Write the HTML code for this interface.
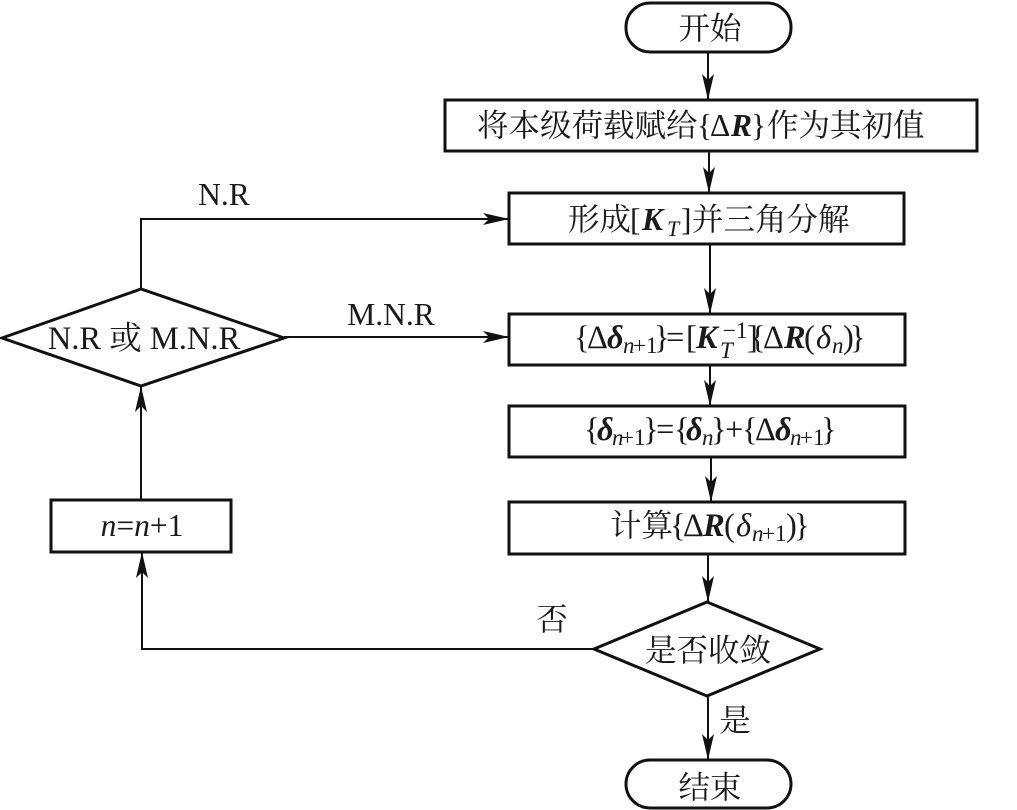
<!DOCTYPE html>
<html><head><meta charset="utf-8"><style>
html,body{margin:0;padding:0;background:#fff;width:1017px;height:810px;overflow:hidden}
svg{display:block}
text{font-family:"Liberation Serif","Noto Serif CJK SC",serif;fill:#1a1a1a;font-size:31.5px}
.c{text-anchor:middle}
.i{font-style:italic}
.b{font-weight:bold;font-style:italic}
.s{font-size:22px}
.f{font-size:32.5px}
.f .s{font-size:23px}
</style></head><body>
<svg width="1017" height="810" viewBox="0 0 1017 810" xmlns="http://www.w3.org/2000/svg">
<defs>
<marker id="a" markerUnits="userSpaceOnUse" markerWidth="28" markerHeight="14" refX="26" refY="7" orient="auto"><path d="M0 1 L26 7 L0 13 L6 7 Z" fill="#111"/></marker>
</defs>
<g fill="none" stroke="#111" stroke-width="3">
<rect x="626" y="3" width="165" height="49" rx="24" ry="24"/>
<rect x="445" y="100" width="532" height="51"/>
<rect x="509" y="193" width="395" height="51"/>
<rect x="509" y="314" width="396" height="51"/>
<rect x="509" y="406" width="396" height="51"/>
<rect x="509" y="502" width="396" height="52"/>
<rect x="51" y="500" width="180" height="52"/>
<rect x="626" y="760" width="165" height="48" rx="24" ry="24"/>
<path d="M2 338 L141 289 L284 338 L141 386 Z"/>
<path d="M594 649 L707 602 L820 649 L707 696 Z"/>
</g>
<g fill="none" stroke="#111" stroke-width="2">
<path d="M708 52 V100" marker-end="url(#a)"/>
<path d="M709 151 V193" marker-end="url(#a)"/>
<path d="M710 244 V314" marker-end="url(#a)"/>
<path d="M710 365 V406" marker-end="url(#a)"/>
<path d="M711 457 V502" marker-end="url(#a)"/>
<path d="M708 554 V602" marker-end="url(#a)"/>
<path d="M708 696 V760" marker-end="url(#a)"/>
<path d="M141 289 V219 H509" marker-end="url(#a)"/>
<path d="M284 337 H509" marker-end="url(#a)"/>
<path d="M141 500 V386" marker-end="url(#a)"/>
<path d="M594 649 H142 V552" marker-end="url(#a)"/>
</g>
<text class="c" x="710" y="39">开始</text>
<text y="136"><tspan x="477">将本级荷载赋给</tspan><tspan x="697">{</tspan><tspan x="710">Δ</tspan><tspan class="b" x="731">R</tspan><tspan x="751">}</tspan><tspan x="767">作为其初值</tspan></text>
<text y="230"><tspan x="568">形成</tspan><tspan x="630">[</tspan><tspan class="b" x="642">K</tspan><tspan class="i s" x="667" y="236">T</tspan><tspan x="681" y="230">]</tspan><tspan x="692">并三角分解</tspan></text>
<text class="f" y="348"><tspan x="574">{</tspan><tspan x="587">Δ</tspan><tspan class="b" x="607">δ</tspan><tspan class="i s" x="623" y="353">n</tspan><tspan class="s" x="633" y="353">+1</tspan><tspan x="654" y="348">}</tspan><tspan x="666">=</tspan><tspan x="686">[</tspan><tspan class="b" x="696">K</tspan><tspan class="s" x="723" y="338">−1</tspan><tspan class="i s" x="720" y="358">T</tspan><tspan x="747" y="348">]</tspan><tspan x="750">{</tspan><tspan x="763">Δ</tspan><tspan class="b" x="784">R</tspan><tspan x="804">(</tspan><tspan class="i" x="816">δ</tspan><tspan class="i s" x="832" y="353">n</tspan><tspan x="843" y="348">)</tspan><tspan x="850">}</tspan></text>
<text class="f" y="440"><tspan x="584">{</tspan><tspan class="b" x="597">δ</tspan><tspan class="i s" x="612" y="445">n</tspan><tspan class="s" x="621" y="445">+1</tspan><tspan x="643" y="440">}</tspan><tspan x="656">=</tspan><tspan x="674">{</tspan><tspan class="b" x="686">δ</tspan><tspan class="i s" x="702" y="445">n</tspan><tspan x="711" y="440">}</tspan><tspan x="725">+</tspan><tspan x="742">{</tspan><tspan x="755">Δ</tspan><tspan class="b" x="775">δ</tspan><tspan class="i s" x="790" y="445">n</tspan><tspan class="s" x="800" y="445">+1</tspan><tspan x="821" y="440">}</tspan></text>
<text class="f" y="536"><tspan x="610" style="font-size:31.5px">计算</tspan><tspan x="670">{</tspan><tspan x="683">Δ</tspan><tspan class="b" x="703">R</tspan><tspan x="724">(</tspan><tspan class="i" x="736">δ</tspan><tspan class="i s" x="752" y="541">n</tspan><tspan class="s" x="762" y="541">+1</tspan><tspan x="786" y="536">)</tspan><tspan x="794">}</tspan></text>
<text class="c" x="142" y="536"><tspan class="i">n</tspan>=<tspan class="i">n</tspan>+1</text>
<text class="c" x="144" y="349" style="font-size:32.5px">N.R 或 M.N.R</text>
<text class="c" x="224" y="205">N.R</text>
<text class="c" x="391" y="325">M.N.R</text>
<text class="c" x="708" y="661">是否收敛</text>
<text class="c" x="552" y="630">否</text>
<text class="c" x="735" y="731">是</text>
<text class="c" x="710" y="798">结束</text>
</svg>
</body></html>
